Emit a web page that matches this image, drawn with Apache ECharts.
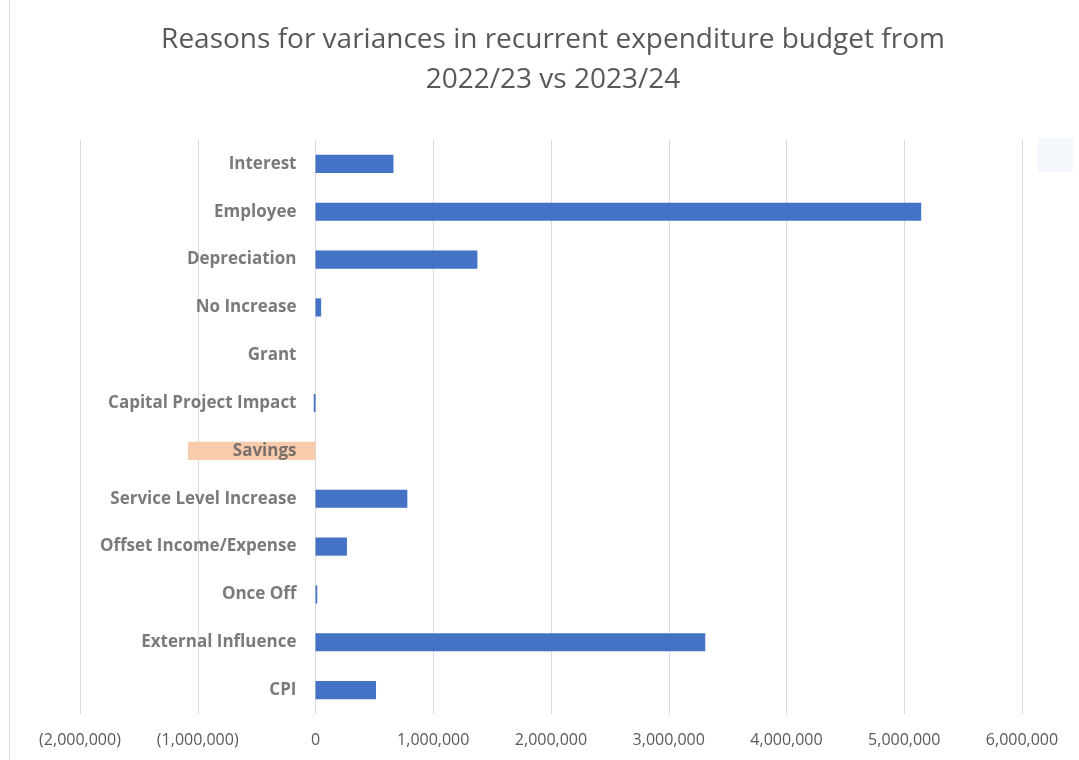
<!DOCTYPE html>
<html>
<head>
<meta charset="utf-8">
<script src="https://cdn.jsdelivr.net/npm/echarts@6/dist/echarts.min.js"></script>
<style>
  html, body { margin: 0; padding: 0; background: #fff; }
  #chart { width: 1079px; height: 760px; }
</style>
</head>
<body>
<div id="chart"></div>
<script>
// Budget variance drivers, listed bottom to top as they appear on the axis
const categories = [
  'CPI', 'External Influence', 'Once Off', 'Offset Income/Expense',
  'Service Level Increase', 'Savings', 'Capital Project Impact', 'Grant',
  'No Increase', 'Depreciation', 'Employee', 'Interest'
];
const variances = [
  514000, 3310000, 15000, 267000,
  780000, -1084000, -15000, 0,
  48000, 1375000, 5144000, 662000
];
const axisMin = -2000000;
const axisMax = 6000000;
const axisStep = 1000000;

const BLUE = '#4472C4';
const PEACH = '#F8CBAD';
const TEXT = '#595959';

function fmt(v) {
  const s = Math.abs(v).toLocaleString('en-US');
  return v < 0 ? '(' + s + ')' : s;
}

const chart = echarts.init(document.getElementById('chart'));
chart.setOption({
  backgroundColor: '#ffffff',
  animation: false,
  title: {
    text: 'Reasons for variances in recurrent expenditure budget from\n2022/23 vs 2023/24',
    left: 548,
    textAlign: 'center',
    top: 15,
    textStyle: {
      fontFamily: 'Open Sans',
      fontWeight: 'normal',
      fontSize: 28,
      lineHeight: 40,
      color: TEXT
    }
  },
  grid: {
    left: 80, right: 57, top: 140, bottom: 46,
    containLabel: false,
    outerBoundsMode: 'none'
  },
  xAxis: {
    type: 'value',
    min: axisMin,
    max: axisMax,
    interval: axisStep,
    axisLine: { show: false },
    axisTick: { show: false },
    splitLine: { lineStyle: { color: '#d9d9d9', width: 1 } },
    axisLabel: {
      formatter: fmt,
      color: TEXT,
      fontFamily: 'Open Sans',
      fontSize: 16,
      margin: 18
    }
  },
  yAxis: {
    type: 'category',
    data: categories,
    axisLine: { show: false },
    axisTick: { show: false },
    splitLine: { show: false },
    axisLabel: { show: false }
  },
  series: [
    {
      type: 'bar',
      data: variances.map(v => ({
        value: v,
        itemStyle: { color: v < -500000 ? PEACH : BLUE }
      })),
      barCategoryGap: '62%',
      z: 2
    },
    {
      // category names anchored on the zero line, drawn above the bars
      type: 'scatter',
      symbolSize: 0,
      silent: true,
      z: 10,
      data: categories.map(c => ({ name: c, value: [0, c] })),
      label: {
        show: true,
        position: 'left',
        distance: 19,
        formatter: p => p.name,
        color: TEXT,
        fontFamily: 'Open Sans',
        fontWeight: 'bold',
        fontSize: 17
      }
    }
  ],
  graphic: [
    {
      type: 'line',
      shape: { x1: 9.5, y1: 0, x2: 9.5, y2: 760 },
      style: { stroke: '#d9d9d9', lineWidth: 1 }
    },
    {
      type: 'rect',
      shape: { x: 1038, y: 138, width: 35, height: 34 },
      style: { fill: '#f4f8fd' }
    }
  ]
});
</script>
</body>
</html>
